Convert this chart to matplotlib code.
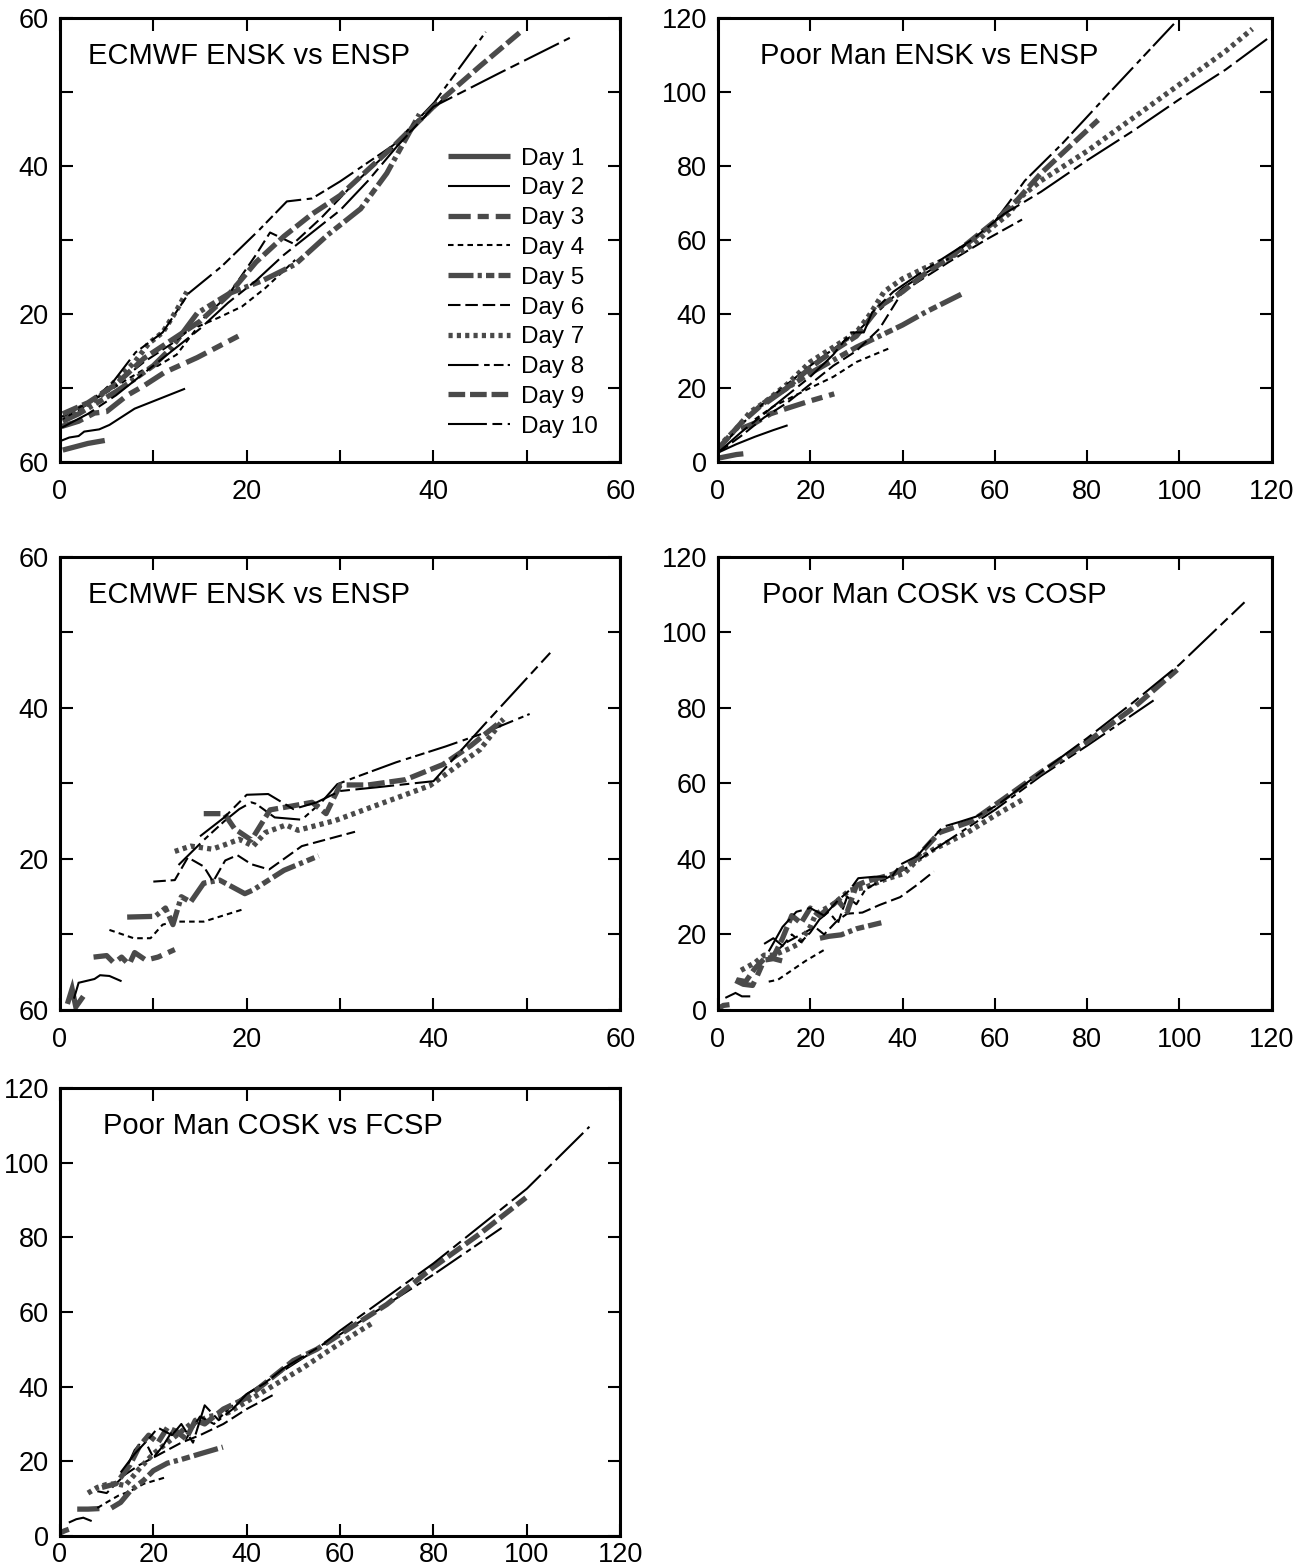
import matplotlib
matplotlib.use("Agg")
import matplotlib.pyplot as plt

plt.rcParams['font.family'] = ['Liberation Sans', 'DejaVu Sans']
plt.rcParams['lines.scale_dashes'] = False

days = ['Day 1', 'Day 2', 'Day 3', 'Day 4', 'Day 5',
        'Day 6', 'Day 7', 'Day 8', 'Day 9', 'Day 10']

# ECMWF ENSK vs ENSP (top)
p1_x = [
    [0.3, 1.5, 3, 4.8],
    [0, 1, 2, 2.6, 4.2, 5.3, 8, 13.4],
    [0.2, 2, 3.7, 5, 7.2, 9, 11.2, 14.7, 19.1],
    [3, 5, 7, 9, 10.5, 12.5, 14.8, 17, 19.5, 22, 25.2],
    [0.3, 2, 4, 6, 8, 10, 12, 14.7, 18.2, 21.7, 25.2, 28.7, 32.2, 35, 38.5],
    [0.3, 3, 6, 9, 12, 15, 18, 21, 22.5, 25, 28, 31, 34, 37, 41],
    [0.5, 2, 4, 6, 8, 9.5, 11, 12.5, 13.6],
    [0.2, 3, 5.5, 8.1, 11, 13.8, 17.3, 21.3, 24.3, 27, 30, 35.7, 40.1, 45.6],
    [0.3, 3, 6, 9, 12, 15, 18, 21, 24, 27, 30, 33, 36, 40, 45, 49.6],
    [0, 3, 6, 9, 12, 15, 18, 21, 24, 27, 30, 33, 36, 40, 47, 54.6],
]
p1_y = [
    [1.6, 2.0, 2.5, 2.9],
    [2.8, 3.3, 3.5, 4.1, 4.4, 5.0, 7.2, 9.9],
    [4.8, 5.5, 6.6, 6.8, 9.0, 10.3, 12.1, 14.1, 17.0],
    [8, 9.4, 11, 12.5, 13, 14.5, 18.3, 19.5, 21, 23.5, 27.3],
    [5.5, 6.5, 8, 9.5, 11.2, 13, 15.5, 20.1, 22.8, 24.5, 26.7, 30.7, 34.2, 39, 47],
    [5.8, 7.8, 10.5, 13.5, 16, 19, 22.5, 28, 31, 29.5, 33, 37, 40.5, 44, 49],
    [6, 7.2, 8.5, 11, 13.5, 16, 17.5, 20.5, 23],
    [6.1, 8, 10.5, 14.8, 17.5, 22.8, 26.4, 31.3, 35.2, 35.6, 37.9, 42.8, 48.6, 58.1],
    [6.5, 8, 10.5, 14, 16.5, 19, 22.5, 27, 30.5, 33.5, 36, 39.5, 43, 48, 53.5, 58.4],
    [4.5, 6.5, 9, 12, 15, 18, 21.5, 24.5, 28, 31, 34, 38, 42.5, 48, 52.5, 57.3],
]

# Poor Man ENSK vs ENSP
p2_x = [
    [0, 2, 4, 5.5],
    [0, 4, 8, 12, 15.1],
    [5, 8, 11.4, 15, 20, 25.2],
    [8, 12, 16, 20, 25, 30, 37.5],
    [10.5, 15, 20, 25, 30, 35, 40, 45, 52.7],
    [0, 5, 10, 15, 20, 25, 30, 35, 40, 50, 58, 65.9],
    [0, 4, 7, 10, 15, 20, 25, 30, 33, 36, 40, 45, 50, 55, 60, 63, 66, 70, 80, 90, 100, 110, 115.8],
    [0, 5, 10, 15, 20, 25, 30, 35, 40, 45, 50, 55, 60, 63, 66.5, 74.6, 85, 99.8],
    [0, 5, 10, 15, 20, 25, 30, 35, 40, 45, 50, 55, 60, 65, 70, 76, 82.4],
    [0, 5, 10, 15, 20, 25, 28.8, 31.6, 33.4, 38, 45, 55, 62, 70, 80, 90, 100, 110, 119],
]
p2_y = [
    [1, 1.5, 2, 2.2],
    [2.5, 4.8, 6.8, 8.6, 9.9],
    [9, 10.5, 13, 14.5, 16.5, 18.4],
    [11.5, 15, 17.5, 20, 23, 27, 30.9],
    [16, 20, 24, 27.5, 31, 34, 37, 40.5, 45.3],
    [2.5, 7, 12, 16, 21, 26, 30, 36, 46, 54, 60, 65.5],
    [4, 9, 13.5, 16, 21, 27, 31, 35, 40, 46, 49.5, 52.5, 55, 58.5, 64, 67, 72, 76, 84, 93, 102, 111, 117],
    [3, 10, 16, 21, 26, 30.5, 35, 41, 47, 51, 55, 60, 65, 70, 76, 86, 100, 119.7],
    [3.5, 10.5, 16, 20, 25.5, 30, 34, 42, 46, 51, 55, 60, 65, 71, 78, 85, 92.4],
    [2.5, 8, 13, 18, 23, 29, 35, 35, 40.4, 46, 52, 60, 67, 73, 81.5, 89.5, 98, 106, 114.3],
]

# ECMWF ENSK vs ENSP (middle)
p3_x = [
    [0.8, 1.3, 1.7, 2.5],
    [1.5, 2.0, 3.7, 4.3, 5.3, 6.6],
    [3.6, 5, 5.8, 6.6, 7.4, 8.0, 9.2, 10.5, 12.3],
    [5.3, 7.9, 9.7, 11, 12.3, 15.4, 19.8],
    [7.2, 10.2, 11.3, 12.1, 13, 14, 15.4, 17.1, 19.8, 20.7, 24, 27.7],
    [10, 12.3, 13.7, 15.4, 16.4, 17.7, 19, 20.5, 22.4, 25.9, 31.6],
    [12.3, 14, 16.3, 17.7, 19.2, 20.7, 22, 24.2, 25.5, 29.5, 33, 39.6, 45, 47.5],
    [12.7, 15.4, 17.6, 19.2, 20.5, 21, 23, 25.9, 28, 29.7, 31.6, 36, 41.3, 45, 50.3],
    [15.4, 17.6, 18.7, 20.5, 22.5, 24.8, 27, 28.5, 30, 33, 37, 41, 44, 47.5],
    [15, 17.6, 20, 22.3, 25, 27.5, 30, 34, 40, 45.3, 52.5],
]
p3_y = [
    [0.8, 2.8, 0.4, 1.8],
    [1.5, 3.6, 4.1, 4.6, 4.5, 3.8],
    [7.0, 7.2, 6.2, 7.0, 6.0, 7.6, 6.6, 7.0, 8.0],
    [10.6, 9.5, 9.5, 11.3, 11.7, 11.7, 13.4],
    [12.3, 12.4, 13.5, 11.3, 15, 14.3, 16.8, 17.2, 15.4, 15.9, 18.5, 20.4],
    [17, 17.2, 20.2, 19, 17, 19.8, 20.5, 19.3, 18.6, 21.7, 23.6],
    [21, 21.7, 21.3, 21.9, 22.6, 21.7, 23.5, 24.5, 23.8, 25.1, 26.7, 29.7, 34.5, 38.5],
    [19.2, 22.5, 25, 26.6, 27.5, 27.3, 25.5, 25.2, 27.5, 29.9, 30.8, 32.8, 34.9, 36.5, 39.2],
    [26, 26, 24, 22.5, 26.5, 27, 27.5, 26, 29.8, 29.8, 30.5, 32.5, 35, 38.5],
    [23, 25.5, 28.5, 28.6, 26.6, 27.5, 29, 29.5, 30.3, 37.6, 47.3],
]

# Poor Man COSK vs COSP
p4_x = [
    [0.2, 1.2, 2.5],
    [1.6, 3.8, 5.2, 7],
    [3.8, 5.5, 7.5, 8.5, 10, 12, 13.9],
    [11, 13, 16, 19, 23],
    [22.1, 24, 26.7, 30, 35.4],
    [12, 15, 18, 21, 23, 25.8, 28, 31.3, 35, 39.5, 43, 46.8],
    [5, 8, 10, 12, 15, 17.5, 20, 21.2, 25, 28.5, 32, 36, 40.4, 43, 46.8, 50, 54.2, 60, 66],
    [10, 12, 14, 16, 18, 20, 22, 24, 26, 28, 30, 32, 35, 40, 45, 50, 55, 60, 70, 80, 94.4],
    [4, 6, 8, 10, 12, 14, 16, 18, 20, 22, 24, 26, 28, 30, 32, 35, 38, 42, 48, 55, 62, 70, 80, 90, 99.5],
    [11, 14, 17, 20, 23, 26, 28.5, 30.4, 34, 37.7, 39.5, 43.2, 48.7, 52.3, 55.9, 60.6, 70, 80, 90, 100, 114.1],
]
p4_y = [
    [0.5, 1.2, 1.4],
    [3.2, 4.5, 3.6, 3.6],
    [7.8, 6.8, 6.5, 9, 13.2, 13.6, 13.0],
    [7.5, 8, 10.5, 13, 15.9],
    [19, 19.5, 19.9, 21.5, 23.1],
    [15, 18, 20, 22, 20, 23.6, 25.5, 25.8, 27.8, 29.9, 33, 36.7],
    [10.5, 12.5, 14.5, 14.5, 16, 17.5, 22, 25.4, 28, 31.7, 32.5, 34.5, 36.2, 39.5, 42.6, 44.5, 47.1, 51.5, 55.7],
    [17.5, 19, 17, 20, 18, 20.5, 24, 26, 23, 30, 28, 32, 34, 37, 41, 45, 49, 53, 62, 70, 82],
    [8, 7.5, 11, 13.5, 14, 19, 25, 23, 27, 25, 27, 29, 26, 33, 34, 35, 36, 39, 47, 50, 56, 63, 71, 80, 90.1],
    [15.5, 22, 26, 27, 25, 29, 31.7, 34.9, 35.3, 35.3, 38.5, 40.8, 48.5, 49.8, 51.2, 54.3, 63, 72, 81.5, 91.5, 108],
]

# Poor Man COSK vs FCSP
p5_x = [
    [0.2, 1.0, 1.9],
    [1.9, 3.5, 5, 6.8],
    [3.7, 6, 9.4],
    [8, 10, 12.5, 15, 18, 22.6],
    [11, 13, 15, 18, 20, 23, 26, 30, 34.9],
    [8, 10, 12, 14, 17, 20, 23, 26, 30, 35, 40, 46],
    [6, 8, 10, 12, 14, 17, 20, 24, 28, 32, 36, 40, 44, 48, 52, 58, 63, 66.9],
    [14, 16, 18, 20, 22, 24, 27, 30, 33, 36, 40, 45, 50, 55, 60, 70, 80, 94.6],
    [9, 12, 15, 17, 19, 21, 23, 25, 27, 29, 31, 35, 40, 45, 50, 55, 60, 65, 70, 80, 90, 99.8],
    [13, 16, 19, 21, 24, 26, 28.5, 31, 34, 37, 40, 44, 48, 52, 56, 60, 70, 80, 90, 100, 113.4],
]
p5_y = [
    [0.9, 1.4, 1.8],
    [3.6, 4.5, 4.9, 4.0],
    [7.2, 7.2, 7.4],
    [7.5, 9, 10.8, 12, 14, 15.7],
    [7.5, 9, 12, 15, 17.5, 19.5, 20.5, 22, 23.8],
    [12, 11.5, 14, 16.5, 19, 21, 23, 25, 27, 30, 34, 38],
    [11.5, 13, 13.8, 14, 13.5, 18, 22, 26, 30, 32, 33, 36, 39, 42, 45, 50, 54, 57],
    [17.5, 23, 26, 21, 24, 28, 26, 32, 30, 34, 38, 42, 46, 50, 54, 62, 70, 82.5],
    [13, 14, 19, 24, 27, 25, 29, 28, 26, 31, 30, 34, 37, 42, 47, 50, 54, 58, 62, 72, 81, 90.6],
    [17, 22, 26, 29, 27, 30, 25, 35, 31, 34, 38, 41, 45, 48, 51, 55, 64, 73, 83, 93, 109.6],
]

# line style per forecast day: (colour, width, dash pattern in points)
GRAY = '#4a4a4a'
styles = [
    (GRAY, 3.8, None),
    ('black', 1.5, None),
    (GRAY, 3.8, (16, 5, 8, 5)),
    ('black', 1.5, (4, 3)),
    (GRAY, 3.8, (18, 3, 3, 3, 6, 3)),
    ('black', 1.5, (9, 3.5)),
    (GRAY, 3.8, (3, 3)),
    ('black', 1.5, (22, 4, 4, 3, 7, 3)),
    (GRAY, 3.8, (12, 3.5)),
    ('black', 1.5, (28, 4, 7, 4)),
]

fig = plt.figure(figsize=(13.03, 15.68), dpi=100)

col_left = [0.046, 0.551]
col_w = [0.430, 0.425]
rows = [(0.7054, 0.2832), (0.3559, 0.2889), (0.0204, 0.2858)]


def draw_panel(pos, xs, ys, title, vmax, step, labels, title_x, xpad=12):
    ax = fig.add_axes(pos)
    for i in range(10):
        color, lw, dash = styles[i]
        kw = dict(color=color, lw=lw, solid_capstyle='butt',
                  dash_capstyle='butt', solid_joinstyle='miter', label=days[i])
        if dash is not None:
            kw['dashes'] = dash
        ax.plot(xs[i], ys[i], **kw)
    ax.set_xlim(0, vmax)
    ax.set_ylim(0, vmax)
    ticks = list(range(0, vmax + 1, step))
    ax.set_xticks(ticks)
    ax.set_xticklabels(labels[0])
    ax.set_yticks(ticks)
    ax.set_yticklabels(labels[1])
    ax.tick_params(direction='in', length=9, width=1.5, top=True, right=True,
                   labelsize=19.5, pad=8)
    ax.tick_params(axis='x', pad=xpad)
    for sp in ax.spines.values():
        sp.set_linewidth(2.2)
    ax.text(title_x, 0.915, title, transform=ax.transAxes, fontsize=21,
            ha='left', va='center')
    return ax


lab60_x = ['0', '', '20', '', '40', '', '60']
lab60_y = ['60', '', '20', '', '40', '', '60']
lab120 = ['0', '20', '40', '60', '80', '100', '120']

ax1 = draw_panel([col_left[0], rows[0][0], col_w[0], rows[0][1]], p1_x, p1_y,
                 'ECMWF ENSK vs ENSP', 60, 10, (lab60_x, lab60_y), 0.05)
ax1.legend(loc='upper left', bbox_to_anchor=(0.693, 0.708), frameon=False,
           fontsize=17.5, handlelength=2.55, handletextpad=0.45,
           labelspacing=0.32, borderpad=0, borderaxespad=0)

draw_panel([col_left[1], rows[0][0], col_w[1], rows[0][1]], p2_x, p2_y,
           'Poor Man ENSK vs ENSP', 120, 20, (lab120, lab120), 0.076)
draw_panel([col_left[0], rows[1][0], col_w[0], rows[1][1]], p3_x, p3_y,
           'ECMWF ENSK vs ENSP', 60, 10, (lab60_x, lab60_y), 0.05)
draw_panel([col_left[1], rows[1][0], col_w[1], rows[1][1]], p4_x, p4_y,
           'Poor Man COSK vs COSP', 120, 20, (lab120, lab120), 0.079)
draw_panel([col_left[0], rows[2][0], col_w[0], rows[2][1]], p5_x, p5_y,
           'Poor Man COSK vs FCSP', 120, 20, (lab120, lab120), 0.077, xpad=4)

fig.savefig('out.png', dpi=100)
